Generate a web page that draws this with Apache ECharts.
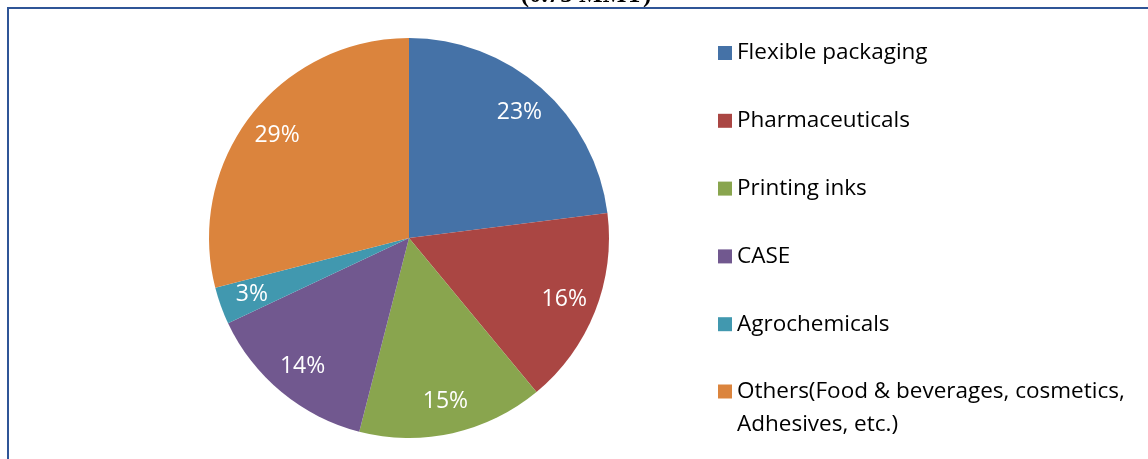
<!DOCTYPE html>
<html><head><meta charset="utf-8">
<script src="https://cdn.jsdelivr.net/npm/echarts@6/dist/echarts.min.js"></script>
<style>html,body{margin:0;padding:0;background:#fff}#c{width:1148px;height:459px}</style>
</head><body><div id="c"></div>
<script>
const titleText = '(0.75 MMT)';
const categories = ['Flexible packaging', 'Pharmaceuticals', 'Printing inks', 'CASE', 'Agrochemicals', 'Others(Food & beverages, cosmetics, Adhesives, etc.)'];
const shares = [23, 16, 15, 14, 3, 29];
const colors = ['#4572A7', '#AA4643', '#89A54E', '#71588F', '#4198AF', '#DB843D'];

const font = '"Open Sans", Lato, sans-serif';
const chart = echarts.init(document.getElementById('c'), null, {renderer: 'canvas'});
const sliceData = categories.map((n, i) => ({name: n, value: shares[i], itemStyle: {color: colors[i]}}));
const labelData = categories.map((n, i) => ({name: n, value: shares[i]}));
const legendBase = {orient: 'vertical', left: 713, height: 800, itemWidth: 14, itemHeight: 14, icon: 'rect'};

chart.setOption({
  animation: false,
  graphic: [
    {type: 'rect', shape: {x: 8, y: 8, width: 1300, height: 1000}, style: {fill: 'none', stroke: '#2F5597', lineWidth: 2}, z: 100},
    {type: 'text', x: 586, y: 8, style: {text: titleText, font: 'bold 25px "Liberation Serif", serif', fill: '#000', align: 'center', verticalAlign: 'bottom'}}
  ],
  legend: [
    Object.assign({}, legendBase, {
      top: 36, itemGap: 43.8, data: categories.slice(0, 5),
      textStyle: {fontFamily: font, fontSize: 22.5, color: '#000', lineHeight: 24}
    }),
    Object.assign({}, legendBase, {
      top: 337, data: categories.slice(5),
      formatter: n => '\n' + n.replace(', Adhesives', ',\nAdhesives'),
      textStyle: {fontFamily: font, fontSize: 22.5, color: '#000', lineHeight: 33}
    })
  ],
  series: [
    {type: 'pie', center: [409, 238], radius: [0, 200], startAngle: 90, clockwise: true,
     label: {show: false}, labelLine: {show: false}, data: sliceData, silent: true},
    {type: 'pie', center: [409, 238], radius: [128, 200], startAngle: 90, clockwise: true,
     itemStyle: {color: 'rgba(0,0,0,0)'}, legendHoverLink: false, silent: true,
     label: {show: true, position: 'inside', formatter: '{c}%', color: '#fff', fontFamily: font, fontSize: 23},
     labelLine: {show: false}, data: labelData}
  ]
});
</script></body></html>
